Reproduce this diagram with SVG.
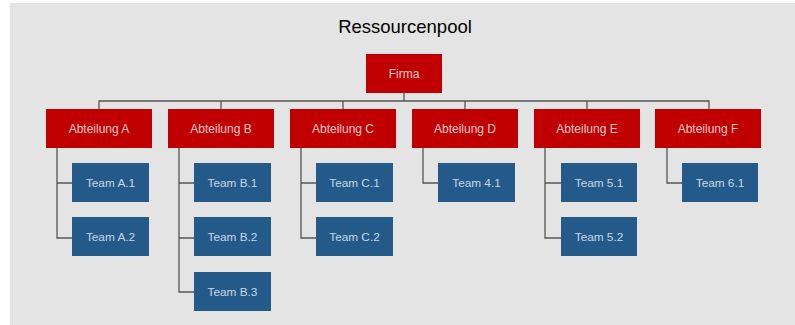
<svg xmlns="http://www.w3.org/2000/svg" width="795" height="325" viewBox="0 0 795 325">
<style>
.dept rect{fill:#C00000}
.dept text{fill:#F6CACA;font-family:"Liberation Sans",Arial,sans-serif;font-size:12px;text-anchor:middle}
.team rect{fill:#245A8A}
.team text{fill:#C9D6E6;font-family:"Liberation Sans",Arial,sans-serif;font-size:11.8px;text-anchor:middle}
.title{fill:#000;font-family:"Liberation Sans",Arial,sans-serif;font-size:18.5px;text-anchor:middle}
#connectors path{fill:none;stroke:#555;stroke-width:1.3}
</style>
<rect x="10" y="3" width="785" height="322" fill="#E4E4E4"/>
<text class="title" x="405" y="33">Ressourcenpool</text>
<g id="connectors">
<path d="M404 93V101M99 109V101H709V109M221 101V109M343 101V109M465 101V109M587 101V109"/>
<path d="M57 148V238H72M57 183H72"/>
<path d="M179 148V292H194M179 183H194M179 238H194"/>
<path d="M301 148V238H316M301 183H316"/>
<path d="M423 148V183H438"/>
<path d="M545 148V238H561M545 183H561"/>
<path d="M667 148V183H682"/>
</g>
<g id="firma" class="dept"><rect x="366" y="54" width="76" height="39"/><text x="404" y="77.5">Firma</text></g>
<g id="abtA" class="dept"><rect x="46" y="109" width="106" height="39"/><text x="99" y="132.5">Abteilung A</text></g>
<g id="abtB" class="dept"><rect x="168" y="109" width="106" height="39"/><text x="221" y="132.5">Abteilung B</text></g>
<g id="abtC" class="dept"><rect x="290" y="109" width="106" height="39"/><text x="343" y="132.5">Abteilung C</text></g>
<g id="abtD" class="dept"><rect x="412" y="109" width="106" height="39"/><text x="465" y="132.5">Abteilung D</text></g>
<g id="abtE" class="dept"><rect x="534" y="109" width="106" height="39"/><text x="587" y="132.5">Abteilung E</text></g>
<g id="abtF" class="dept"><rect x="655" y="109" width="106" height="39"/><text x="708" y="132.5">Abteilung F</text></g>
<g id="teamA1" class="team"><rect x="72" y="163" width="77" height="39"/><text x="110.5" y="186.5">Team A.1</text></g>
<g id="teamA2" class="team"><rect x="72" y="217" width="77" height="39"/><text x="110.5" y="240.5">Team A.2</text></g>
<g id="teamB1" class="team"><rect x="194" y="163" width="77" height="39"/><text x="232.5" y="186.5">Team B.1</text></g>
<g id="teamB2" class="team"><rect x="194" y="217" width="77" height="39"/><text x="232.5" y="240.5">Team B.2</text></g>
<g id="teamB3" class="team"><rect x="194" y="272" width="77" height="39"/><text x="232.5" y="295.5">Team B.3</text></g>
<g id="teamC1" class="team"><rect x="316" y="163" width="77" height="39"/><text x="354.5" y="186.5">Team C.1</text></g>
<g id="teamC2" class="team"><rect x="316" y="217" width="77" height="39"/><text x="354.5" y="240.5">Team C.2</text></g>
<g id="team41" class="team"><rect x="438" y="163" width="77" height="39"/><text x="476.5" y="186.5">Team 4.1</text></g>
<g id="team51" class="team"><rect x="561" y="163" width="76" height="39"/><text x="599" y="186.5">Team 5.1</text></g>
<g id="team52" class="team"><rect x="561" y="217" width="76" height="39"/><text x="599" y="240.5">Team 5.2</text></g>
<g id="team61" class="team"><rect x="682" y="163" width="76" height="39"/><text x="720" y="186.5">Team 6.1</text></g>
</svg>
